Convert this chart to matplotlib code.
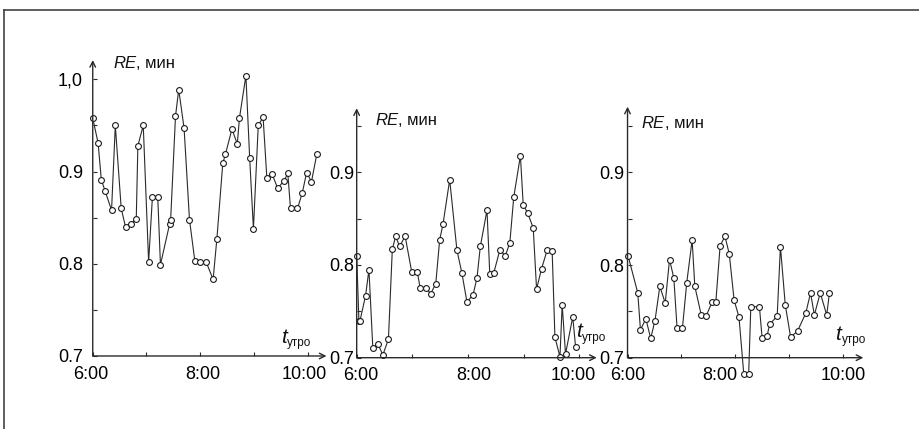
import matplotlib
matplotlib.use("Agg")
import matplotlib.pyplot as plt
from matplotlib.lines import Line2D
from matplotlib.transforms import ScaledTranslation

FONT = "Liberation Sans"

# --- data (hours since midnight, RE in minutes) ---
t1 = [6.00, 6.10, 6.16, 6.23, 6.35, 6.42, 6.53, 6.61, 6.71, 6.81, 6.84, 6.94,
      7.04, 7.11, 7.21, 7.26, 7.43, 7.45, 7.54, 7.60, 7.70, 7.80, 7.90, 7.99,
      8.11, 8.24, 8.31, 8.42, 8.47, 8.59, 8.69, 8.73, 8.85, 8.92, 8.99, 9.08,
      9.17, 9.24, 9.34, 9.44, 9.56, 9.63, 9.68, 9.81, 9.90, 9.98, 10.07, 10.17]
re1 = [0.958, 0.931, 0.891, 0.879, 0.858, 0.950, 0.860, 0.840, 0.843, 0.849, 0.928, 0.950,
       0.802, 0.872, 0.872, 0.799, 0.843, 0.848, 0.960, 0.989, 0.947, 0.848, 0.803, 0.802,
       0.802, 0.783, 0.827, 0.909, 0.919, 0.946, 0.930, 0.958, 1.004, 0.915, 0.838, 0.950,
       0.959, 0.893, 0.897, 0.882, 0.890, 0.898, 0.860, 0.860, 0.877, 0.899, 0.889, 0.919]

t2 = [6.00, 6.04, 6.06, 6.16, 6.22, 6.29, 6.38, 6.47, 6.57, 6.64, 6.70, 6.77,
      6.87, 6.99, 7.09, 7.14, 7.24, 7.33, 7.42, 7.49, 7.55, 7.67, 7.80, 7.89,
      7.98, 8.09, 8.16, 8.22, 8.34, 8.39, 8.46, 8.57, 8.67, 8.75, 8.82, 8.94,
      8.99, 9.07, 9.17, 9.23, 9.32, 9.42, 9.51, 9.56, 9.65, 9.69, 9.75, 9.88, 9.93]
re2 = [0.810, 0.740, 0.740, 0.767, 0.795, 0.710, 0.715, 0.703, 0.720, 0.817, 0.831, 0.820,
       0.831, 0.792, 0.792, 0.775, 0.775, 0.769, 0.780, 0.827, 0.844, 0.892, 0.816, 0.791,
       0.760, 0.768, 0.786, 0.820, 0.859, 0.790, 0.791, 0.816, 0.810, 0.824, 0.873, 0.918,
       0.865, 0.856, 0.840, 0.774, 0.796, 0.816, 0.815, 0.722, 0.701, 0.757, 0.704, 0.744, 0.712]

t3 = [6.01, 6.19, 6.24, 6.34, 6.43, 6.51, 6.60, 6.70, 6.78, 6.86, 6.92, 7.02,
      7.10, 7.20, 7.25, 7.37, 7.46, 7.57, 7.64, 7.72, 7.81, 7.89, 7.98, 8.07,
      8.16, 8.25, 8.29, 8.45, 8.50, 8.59, 8.64, 8.78, 8.84, 8.93, 9.03, 9.16,
      9.31, 9.40, 9.47, 9.58, 9.70, 9.75]
re3 = [0.810, 0.770, 0.730, 0.742, 0.721, 0.740, 0.777, 0.759, 0.806, 0.786, 0.732, 0.732,
       0.781, 0.827, 0.777, 0.746, 0.745, 0.760, 0.760, 0.821, 0.831, 0.812, 0.762, 0.744,
       0.682, 0.682, 0.755, 0.755, 0.721, 0.723, 0.736, 0.745, 0.820, 0.757, 0.722, 0.729,
       0.748, 0.770, 0.746, 0.770, 0.746, 0.770]

x_ticks = [6, 7, 8, 9, 10]
x_labels = ["6:00", "", "8:00", "", "10:00"]
y_ticks1 = [0.7, 0.75, 0.8, 0.85, 0.9, 0.95, 1.0]
y_labels1 = ["0.7", "", "0.8", "", "0.9", "", "1,0"]
y_ticks23 = [0.7, 0.75, 0.8, 0.85, 0.9, 0.95]
y_labels23 = ["0.7", "", "0.8", "", "0.9", ""]

INK = "#2a2a2a"

fig = plt.figure(figsize=(9.2, 4.29), dpi=100)

# panel boxes: [left, bottom, width, height], limits, y-label pad, label spots,
# and small pixel nudges of the hour labels (the scanned original is hand-set)
panels = [
    dict(rect=[0.1008, 0.1702, 0.2541, 0.6899], xlim=(6, 10.35), ylim=(0.7, 1.021),
         t=t1, re=re1, yt=y_ticks1, yl=y_labels1, ypad=7.0,
         re_pos=(6.38, 1.012), t_pos=(9.50, 0.714), nudge=[-2, 0, 3, 0, -3]),
    dict(rect=[0.3877, 0.1662, 0.2609, 0.5814], xlim=(6, 10.31), ylim=(0.7, 0.969),
         t=t2, re=re2, yt=y_ticks23, yl=y_labels23, ypad=1.5,
         re_pos=(6.33, 0.951), t_pos=(9.94, 0.722), nudge=[4, 0, 6, 0, -6]),
    dict(rect=[0.6821, 0.1662, 0.2563, 0.5851], xlim=(6, 10.38), ylim=(0.7, 0.971),
         t=t3, re=re3, yt=y_ticks23, yl=y_labels23, ypad=2.5,
         re_pos=(6.26, 0.948), t_pos=(9.86, 0.719), nudge=[0, 0, -15, 0, 0]),
]

for p in panels:
    ax = fig.add_axes(p["rect"])
    ax.patch.set_alpha(0)
    ax.set_xlim(*p["xlim"])
    ax.set_ylim(*p["ylim"])
    for s in ax.spines.values():
        s.set_visible(False)

    ax.plot(p["t"], p["re"], "-", color=INK, lw=0.8, marker="o", ms=4.2,
            mfc="white", mec="#1a1a1a", mew=0.8, clip_on=False, zorder=3)

    # axis lines with open arrowheads
    ax.annotate("", xy=(1, 0), xytext=(0, 0), xycoords="axes fraction",
                arrowprops=dict(arrowstyle="->", color=INK, lw=1.0,
                                shrinkA=0, shrinkB=0, mutation_scale=10))
    ax.annotate("", xy=(0, 1), xytext=(0, 0), xycoords="axes fraction",
                arrowprops=dict(arrowstyle="->", color=INK, lw=1.0,
                                shrinkA=0, shrinkB=0, mutation_scale=10))

    ax.set_xticks(x_ticks)
    ax.set_xticklabels(x_labels, fontfamily=FONT, fontsize=13)
    ax.set_yticks(p["yt"])
    ax.set_yticklabels(p["yl"], fontfamily=FONT, fontsize=13)
    ax.tick_params(axis="x", direction="in", length=3, width=0.8, color=INK,
                   pad=7.0, top=False)
    ax.tick_params(axis="y", direction="in", length=3, width=0.8, color=INK,
                   pad=p["ypad"], right=False)
    for lab, dx in zip(ax.get_xticklabels(), p["nudge"]):
        lab.set_transform(lab.get_transform() +
                          ScaledTranslation(dx / 100, 0, fig.dpi_scale_trans))

    # RE, мин
    r = ax.text(p["re_pos"][0], p["re_pos"][1], "RE", fontfamily=FONT,
                style="italic", fontsize=12, va="baseline", ha="left", color="#111")
    ax.annotate(", мин", xy=(1, 0), xycoords=r, fontfamily=FONT, fontsize=12,
                va="bottom", ha="left", color="#111")

    # t_утро
    tt = ax.text(p["t_pos"][0], p["t_pos"][1], "t", fontfamily=FONT,
                 style="italic", fontsize=15, va="baseline", ha="left", color="#111")
    ax.annotate("утро", xy=(1, 0), xycoords=tt, xytext=(0.3, 0.5),
                textcoords="offset points", fontfamily=FONT, fontsize=8.5,
                va="baseline", ha="left", color="#111")

# outer frame (only top and left edges fall inside the picture)
fy = 1 - 10 / 429
fx = 4 / 920
fig.add_artist(Line2D([fx, 1.0], [fy, fy], transform=fig.transFigure, color="#333", lw=1.1))
fig.add_artist(Line2D([fx, fx], [0.0, fy], transform=fig.transFigure, color="#333", lw=1.1))

fig.savefig("out.png", dpi=100)
